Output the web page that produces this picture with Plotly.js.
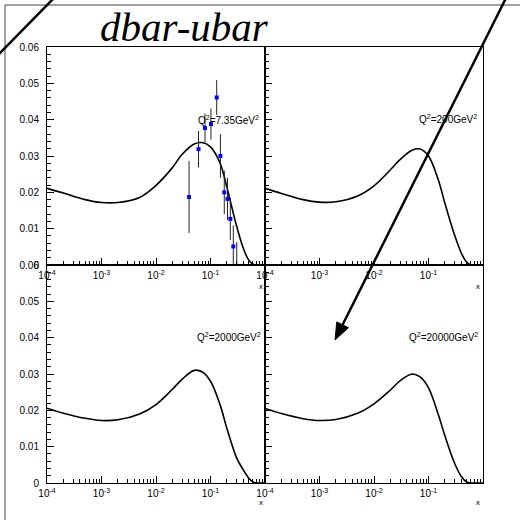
<!DOCTYPE html>
<html>
<head>
<meta charset="utf-8">
<script src="https://cdn.plot.ly/plotly-3.0.1.min.js"></script>
<style>
  html, body { margin: 0; padding: 0; background: #fff; }
  #chart { width: 520px; height: 520px; }
</style>
</head>
<body>
<div id="chart"></div>
<script>
// Sampling points in x for the dbar-ubar curves
const xGrid = [1e-4, 2e-4, 5e-4, 1e-3, 2e-3, 5e-3, 0.01, 0.02, 0.03, 0.05, 0.07, 0.1, 0.15, 0.2, 0.3, 0.4, 0.5, 0.6, 0.7, 1.0];

// dbar-ubar at each Q^2
const curveQ2_7p35  = [0.0211, 0.0198, 0.0180, 0.0172, 0.0172, 0.0186, 0.0219, 0.0268, 0.0304, 0.0333, 0.0337, 0.0325, 0.0280, 0.0214, 0.0108, 0.0046, 0.0014, 0.0002, 0, 0];
const curveQ2_200   = [0.0211, 0.0197, 0.0180, 0.0173, 0.0174, 0.0190, 0.0218, 0.0262, 0.0290, 0.0316, 0.0319, 0.0300, 0.0236, 0.0170, 0.0083, 0.0033, 0.0008, 0, 0, 0];
const curveQ2_2000  = [0.0206, 0.0192, 0.0178, 0.0172, 0.0174, 0.0190, 0.0216, 0.0258, 0.0285, 0.0310, 0.0306, 0.0280, 0.0215, 0.0150, 0.0070, 0.0036, 0.0014, 0.0003, 0, 0];
const curveQ2_20000 = [0.0205, 0.0191, 0.0177, 0.0172, 0.0175, 0.0192, 0.0218, 0.0256, 0.0281, 0.0300, 0.0292, 0.0262, 0.0190, 0.0130, 0.0055, 0.0018, 0.0003, 0, 0, 0];

// Measured points at Q^2 = 7.35 GeV^2
const dataX   = [0.0404, 0.0603, 0.0792, 0.102, 0.130, 0.152, 0.179, 0.205, 0.231, 0.262, 0.303];
const dataY   = [0.0187, 0.0319, 0.0377, 0.0388, 0.0461, 0.0300, 0.0200, 0.0182, 0.0127, 0.0051, -0.0010];
const dataErr = [0.0099, 0.0050, 0.0040, 0.0043, 0.0048, 0.0060, 0.0060, 0.0058, 0.0058, 0.0058, 0.0073];

// Axis ticks (the x = 1 tick is left unlabelled)
const xTickVals = [1e-4, 1e-3, 1e-2, 1e-1, 1];
const xTickText = ['10<sup>-4</sup>', '10<sup>-3</sup>', '10<sup>-2</sup>', '10<sup>-1</sup>', ''];
const yTickVals = [0, 0.01, 0.02, 0.03, 0.04, 0.05, 0.06];
const yTickText = ['0', '0.01', '0.02', '0.03', '0.04', '0.05', '0.06'];

// Panel captions
const panelLabels = ['Q<sup>2</sup>=7.35GeV<sup>2</sup>', 'Q<sup>2</sup>=200GeV<sup>2</sup>',
                     'Q<sup>2</sup>=2000GeV<sup>2</sup>', 'Q<sup>2</sup>=20000GeV<sup>2</sup>'];

const W = 520, H = 520;
const px = v => v / W;          // pixel -> paper (x)
const py = v => 1 - v / H;      // pixel -> paper (y)

const minorX = [];
for (let e = -4; e < 0; e++) for (let m = 2; m <= 9; m++) minorX.push(m * Math.pow(10, e));

const font = { family: 'Liberation Sans, Arial, sans-serif', size: 10, color: '#000' };

function xAxis(domain, anchor) {
  return {
    type: 'log', range: [-4, 0], domain: domain, anchor: anchor,
    showline: true, mirror: true, linecolor: '#000', linewidth: 1,
    ticks: 'inside', ticklen: 7, tickwidth: 1, tickcolor: '#000',
    tickmode: 'array', tickvals: xTickVals, ticktext: xTickText,
    minor: { ticks: 'inside', ticklen: 4, tickwidth: 1, tickcolor: '#000', tickmode: 'array', tickvals: minorX, showgrid: false },
    showgrid: false, zeroline: false, tickfont: font, ticklabelstandoff: 1
  };
}
function yAxis(domain, anchor, labels) {
  return {
    range: [0, 0.06], domain: domain, anchor: anchor,
    showline: true, mirror: true, linecolor: '#000', linewidth: 1,
    ticks: 'inside', ticklen: 7, tickwidth: 1, tickcolor: '#000',
    tickmode: 'array', tickvals: yTickVals, ticktext: yTickText,
    minor: { ticks: 'inside', ticklen: 4, tickwidth: 1, tickcolor: '#000', dtick: 0.002, showgrid: false },
    showticklabels: labels, showgrid: false, zeroline: false, tickfont: font, ticklabelstandoff: 5
  };
}

const xL = [px(47), px(265)], xR = [px(265), px(483)];
const yT = [py(265), py(47)], yB = [py(483), py(265)];

const curves = [curveQ2_7p35, curveQ2_200, curveQ2_2000, curveQ2_20000];
const axPairs = [['x', 'y'], ['x2', 'y2'], ['x3', 'y3'], ['x4', 'y4']];

const traces = curves.map((c, i) => ({
  x: xGrid, y: c, xaxis: axPairs[i][0], yaxis: axPairs[i][1],
  mode: 'lines', line: { color: '#000', width: 1.6, shape: 'spline', smoothing: 1 },
  hoverinfo: 'skip', showlegend: false
}));

traces.push({
  x: dataX, y: dataY, xaxis: 'x', yaxis: 'y', mode: 'markers',
  marker: { symbol: 'square', size: 4, color: '#0000ff' },
  error_y: { type: 'data', array: dataErr, visible: true, color: '#222', thickness: 1, width: 0 },
  showlegend: false
});

// Caption placement (left edge, vertical centre) per panel
const labelPos = [[196, 120], [417, 119], [195, 337], [407, 337]];

const annotations = panelLabels.map((t, i) => ({
  text: t, xref: 'paper', yref: 'paper', x: px(labelPos[i][0]), y: py(labelPos[i][1]),
  xanchor: 'left', yanchor: 'middle', showarrow: false,
  font: { family: 'Liberation Sans, Arial, sans-serif', size: 10, color: '#000' }
}));

// "x" axis labels at the right end of each panel
[[265, 286], [482, 286], [265, 502], [482, 502]].forEach(p => annotations.push({
  text: 'x', xref: 'paper', yref: 'paper', x: px(p[0]), y: py(p[1]),
  xanchor: 'right', yanchor: 'middle', showarrow: false,
  font: { family: 'Liberation Sans, Arial, sans-serif', size: 8, color: '#000' }
}));

annotations.push({
  text: 'dbar-ubar', xref: 'paper', yref: 'paper', x: px(184), y: py(27),
  xanchor: 'center', yanchor: 'middle', showarrow: false,
  font: { family: 'Liberation Serif, Times New Roman, serif', size: 41, style: 'italic', color: '#000' }
});

// Arrow: shaft and filled head
const tip = [335, 340], tail = [510, -10];
const dx = tip[0] - tail[0], dy = tip[1] - tail[1], L = Math.hypot(dx, dy);
const ux = dx / L, uy = dy / L, nx = -uy, ny = ux;
const hl = 17, hw = 6.5;
const bx = tip[0] - hl * ux, by = tip[1] - hl * uy;
const headPath = `M ${px(tip[0])} ${py(tip[1])} L ${px(bx + hw * nx)} ${py(by + hw * ny)} L ${px(bx - hw * nx)} ${py(by - hw * ny)} Z`;

const shapes = [
  // outer frame
  { type: 'line', xref: 'paper', yref: 'paper', x0: px(5), y0: py(5), x1: px(530), y1: py(5), line: { color: '#444', width: 1 } },
  { type: 'line', xref: 'paper', yref: 'paper', x0: px(5), y0: py(5), x1: px(5), y1: py(530), line: { color: '#444', width: 1 } },
  // diagonal stroke at the top-left corner
  { type: 'line', xref: 'paper', yref: 'paper', x0: px(-2), y0: py(55), x1: px(54), y1: py(-2), line: { color: '#000', width: 2.5 } },
  // arrow
  { type: 'line', xref: 'paper', yref: 'paper', x0: px(tail[0]), y0: py(tail[1]), x1: px(bx), y1: py(by), line: { color: '#000', width: 2.5 } },
  { type: 'path', xref: 'paper', yref: 'paper', path: headPath, fillcolor: '#000', line: { color: '#000', width: 1 } }
];

const layout = {
  width: W, height: H, margin: { l: 0, r: 0, t: 0, b: 0 },
  paper_bgcolor: '#fff', plot_bgcolor: '#fff', showlegend: false,
  xaxis: xAxis(xL, 'y'), yaxis: yAxis(yT, 'x', true),
  xaxis2: xAxis(xR, 'y2'), yaxis2: yAxis(yT, 'x2', false),
  xaxis3: xAxis(xL, 'y3'), yaxis3: yAxis(yB, 'x3', true),
  xaxis4: xAxis(xR, 'y4'), yaxis4: yAxis(yB, 'x4', false),
  annotations: annotations, shapes: shapes
};

Plotly.newPlot('chart', traces, layout, { staticPlot: true, displayModeBar: false });
</script>
</body>
</html>
